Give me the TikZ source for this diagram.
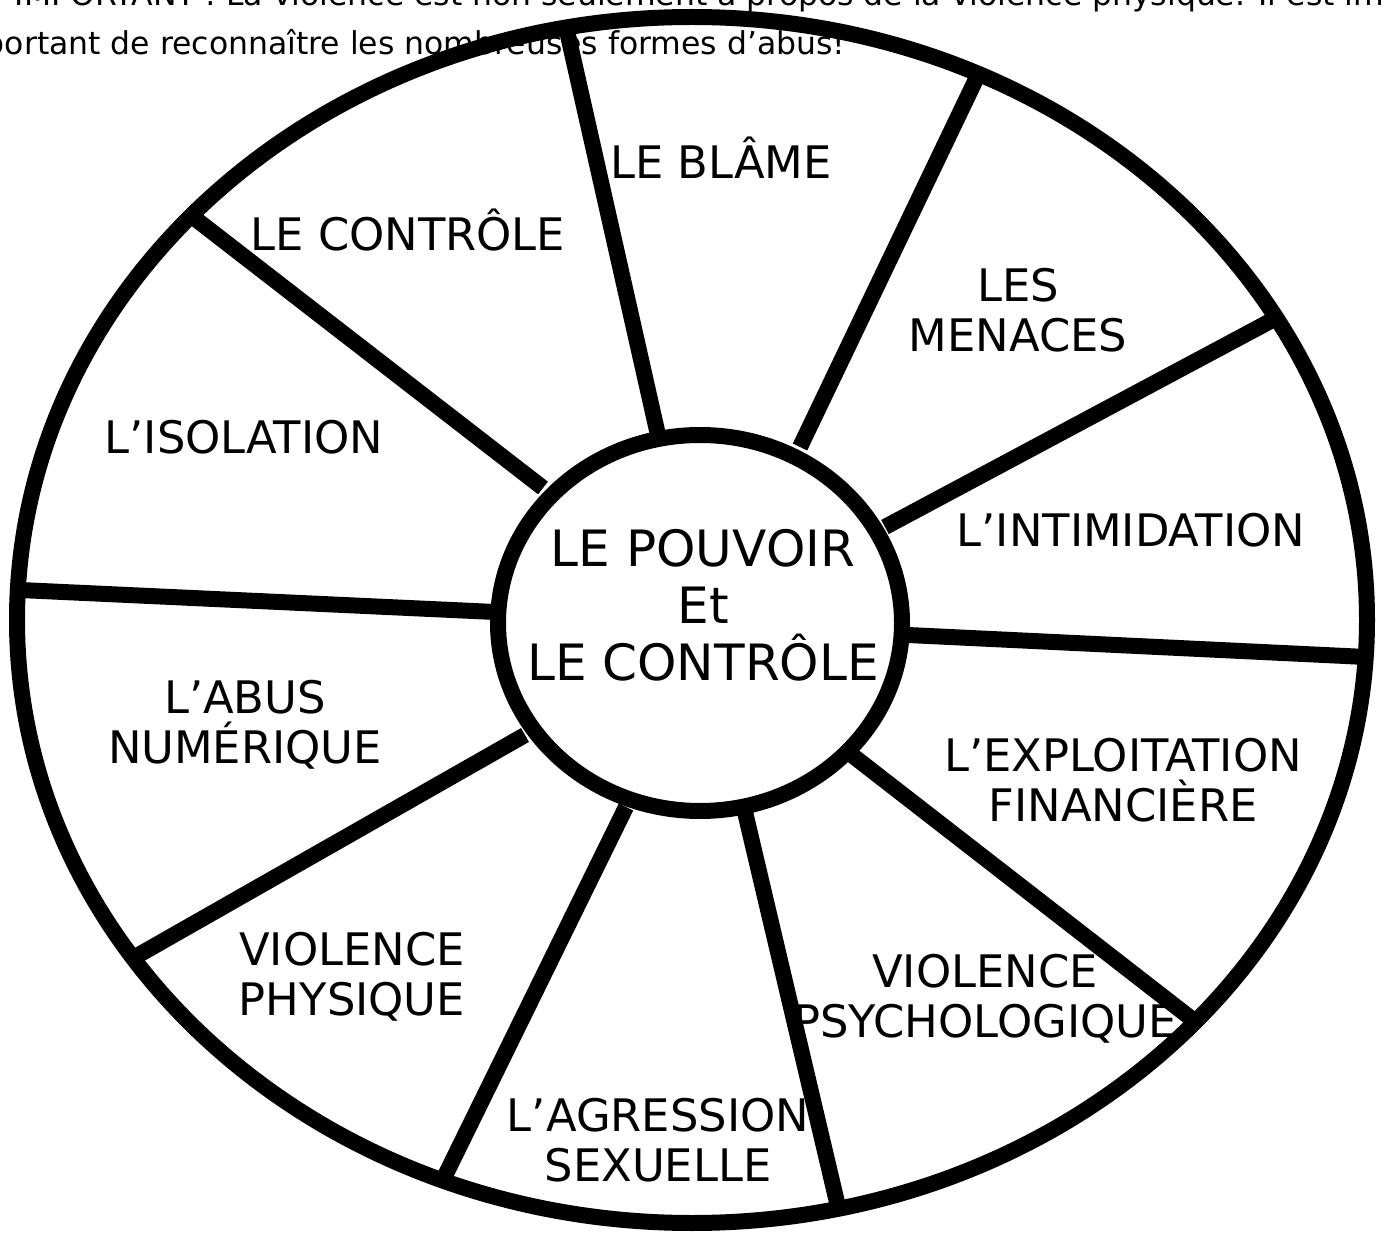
\documentclass[tikz,border=0pt]{standalone}
\usepackage{fontspec}
\setmainfont{DejaVu Sans}
\usepackage{tikz}

\begin{document}
\begin{tikzpicture}[x=0.02cm, y=-0.02cm, line width=0.32cm,
  every node/.style={font=\fontsize{25.5}{28.5}\selectfont, align=center, inner sep=0pt},
  hub/.style={font=\fontsize{28.5}{32.5}\selectfont},
  intro/.style={font=\fontsize{17.9}{20}\selectfont, anchor=base west}]

\useasboundingbox (0,0) rectangle (1384,1233);
\clip (0,0) rectangle (1384,1233);

% text above the wheel, cut by the page edges
\node[intro, anchor=base east] (note1) at (1392,6) {POINT IMPORTANT : La violence est non seulement à propos de la violence physique. Il est im};
\node[intro] (note2) at (-23,55) {portant de reconnaître les nombreuses formes d'abus!};

% the wheel
\draw (692,620) ellipse (675 and 603);
\draw (700,623) ellipse (202 and 188);
\foreach \xa/\ya/\xb/\yb in {658/435/565/22, 800/447/978/75, 885/527/1280/316,
  908/635/1366/657, 848/752/1197/1023, 745/812/840/1215, 626/807/441/1184,
  525/735/135/957, 495/612/20/590, 543/488/193/217}
  \draw (\xa,\ya) -- (\xb,\yb);

% centre
\node[hub] (pouvoir) at (703,605) {LE POUVOIR\\Et\\LE CONTRÔLE};

% the ten parts
\node (blame) at (721,158) {LE BLÂME};
\node (controle) at (408,230) {LE CONTRÔLE};
\node (menaces) at (1018,310) {LES\\MENACES};
\node (isolation) at (244,437) {L’ISOLATION};
\node (intimidation) at (1131,530) {L’INTIMIDATION};
\node (numerique) at (245,725) {L’ABUS\\NUMÉRIQUE};
\node (exploitation) at (1123,780) {L’EXPLOITATION\\FINANCIÈRE};
\node (physique) at (352,977) {VIOLENCE\\PHYSIQUE};
\node (psycho) at (985,999) {VIOLENCE\\PSYCHOLOGIQUE};
\node (agression) at (658,1140) {L’AGRESSION\\SEXUELLE};

\end{tikzpicture}
\end{document}
